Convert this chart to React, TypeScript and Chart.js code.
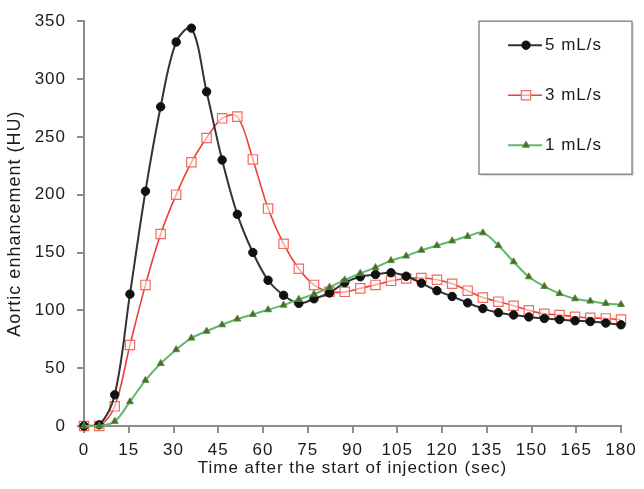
import React, { useEffect, useRef } from 'react';
import { Chart, registerables } from 'chart.js';
import { drawPoint } from 'chart.js/helpers';

Chart.register(...registerables);

// Sample times (sec) – 36 samples over 0–180 s
const times = [0, 5.1, 10.3, 15.4, 20.6, 25.7, 30.9, 36, 41.1, 46.3, 51.4, 56.6, 61.7, 66.9, 72, 77.1, 82.3, 87.4,
  92.6, 97.7, 102.9, 108, 113.1, 118.3, 123.4, 128.6, 133.7, 138.9, 144, 149.1, 154.3, 159.4, 164.6, 169.7, 174.9, 180];

// Aortic enhancement (HU)
const rate5 = [0, 1, 27, 114, 203, 276, 332, 344, 289, 230, 183, 150, 126, 113, 106, 110, 115, 124, 129, 131,
  132.5, 129.5, 123.5, 117, 112, 106.5, 101.5, 98, 96, 94.3, 93, 92, 91, 90.3, 89, 87.5];
const rate3 = [0, 0, 17, 70, 122, 166, 200, 228, 249, 266, 267.5, 230.5, 188, 157.5, 136, 122, 116, 116, 119, 122,
  125.5, 127.5, 128, 126.5, 123, 117, 111, 107.5, 104, 100, 97, 96, 94.5, 93.5, 93, 92];
const rate1 = [0, 0, 4, 21, 39.5, 54, 66, 76, 82, 87.5, 92.5, 96.5, 100.5, 104.5, 109.5, 114, 120, 126.3, 132, 137,
  143, 147, 152, 156, 160, 164, 167, 156, 142, 129, 120.7, 114.5, 110, 108, 106, 105];

const seriesLabels = ['5 mL/s', '3 mL/s', '1 mL/s'];
const xTitle = 'Time after the start of injection (sec)';
const yTitle = 'Aortic enhancement (HU)';
const xRange = [0, 180];
const xStep = 15;
const yRange = [0, 350];
const yStep = 50;

const FONT = '"Liberation Sans", Arial, Helvetica, sans-serif';
const TEXT = '#1a1a1a';
const AXIS = '#8c8c8c';

const spacingPlugin = {
  id: 'letterSpacingPlugin',
  beforeLayout(chart: any) { chart.ctx.letterSpacing = '1px'; },
  beforeDraw(chart: any) { chart.ctx.letterSpacing = '1px'; },
};

const boxLegendPlugin = {
  id: 'boxLegend',
  afterDraw(chart: any) {
    const ctx = chart.ctx;
    const area = chart.chartArea;
    const w = 153;
    const h = 153;
    const x0 = area.right + 11 - w;
    const y0 = area.top;
    ctx.save();
    ctx.fillStyle = 'rgba(0,0,0,0.12)';
    ctx.fillRect(x0 + 2, y0 + 2, w, h);
    ctx.fillStyle = '#ffffff';
    ctx.fillRect(x0, y0, w, h);
    ctx.strokeStyle = AXIS;
    ctx.lineWidth = 1.5;
    ctx.strokeRect(x0, y0, w, h);
    chart.data.datasets.forEach((ds: any, i: number) => {
      const y = y0 + 24 + i * 50;
      ctx.strokeStyle = ds.borderColor;
      ctx.lineWidth = ds.borderWidth;
      ctx.beginPath();
      ctx.moveTo(x0 + 29, y);
      ctx.lineTo(x0 + 63, y);
      ctx.stroke();
      ctx.fillStyle = ds.pointBackgroundColor;
      ctx.strokeStyle = ds.pointBorderColor;
      ctx.lineWidth = ds.pointBorderWidth;
      drawPoint(ctx, { pointStyle: ds.pointStyle, radius: ds.pointRadius, rotation: 0, borderWidth: ds.pointBorderWidth }, x0 + 47, y);
      ctx.fillStyle = TEXT;
      ctx.font = `17px ${FONT}`;
      ctx.textBaseline = 'middle';
      ctx.textAlign = 'left';
      ctx.fillText(ds.label, x0 + 66, y);
    });
    ctx.restore();
  },
};

function toPoints(values: number[]) {
  return values.map((v, i) => ({ x: times[i], y: v }));
}

export default function App() {
  const canvasRef = useRef<HTMLCanvasElement | null>(null);

  useEffect(() => {
    if (!canvasRef.current) return;
    const chart = new Chart(canvasRef.current, {
      type: 'line',
      data: {
        datasets: [
          {
            label: seriesLabels[0],
            data: toPoints(rate5),
            borderColor: '#333333',
            borderWidth: 2,
            pointStyle: 'circle',
            pointRadius: 4.2,
            pointBackgroundColor: '#111111',
            pointBorderColor: '#111111',
            pointBorderWidth: 1,
            order: 2,
            clip: false,
          },
          {
            label: seriesLabels[1],
            data: toPoints(rate3),
            borderColor: '#ee3f35',
            borderWidth: 1.6,
            pointStyle: 'rect',
            pointRadius: 6.6,
            pointBackgroundColor: 'rgba(255,255,255,0.55)',
            pointBorderColor: '#f26a5c',
            pointBorderWidth: 1.2,
            order: 3,
            clip: false,
          },
          {
            label: seriesLabels[2],
            data: toPoints(rate1),
            borderColor: '#5dbb6a',
            borderWidth: 2,
            pointStyle: 'triangle',
            pointRadius: 4,
            pointBackgroundColor: '#4d6a2b',
            pointBorderColor: '#5a8c3c',
            pointBorderWidth: 1,
            order: 1,
            clip: false,
          },
        ] as any,
      },
      options: {
        animation: false,
        responsive: true,
        maintainAspectRatio: false,
        layout: { padding: { left: 0, right: 23, top: 15, bottom: 0 } },
        elements: { line: { tension: 0.35 } },
        plugins: { legend: { display: false }, tooltip: { enabled: false } },
        scales: {
          x: {
            type: 'linear',
            min: xRange[0],
            max: xRange[1],
            ticks: { stepSize: xStep, color: TEXT, font: { family: FONT, size: 17 }, padding: 7, maxRotation: 0, autoSkip: false },
            grid: { drawOnChartArea: false, drawTicks: true, tickLength: 7, color: AXIS, lineWidth: 2 },
            border: { display: true, color: AXIS, width: 2 },
            title: { display: true, text: xTitle, color: TEXT, font: { family: FONT, size: 17 }, padding: { top: 0, bottom: 10 } },
            afterFit: (s: any) => { s.height = 63; },
          },
          y: {
            min: yRange[0],
            max: yRange[1],
            ticks: { stepSize: yStep, color: TEXT, font: { family: FONT, size: 17 }, padding: 11 },
            grid: { drawOnChartArea: false, drawTicks: true, tickLength: 7, color: AXIS, lineWidth: 2 },
            border: { display: true, color: AXIS, width: 2 },
            title: { display: true, text: yTitle, color: TEXT, font: { family: FONT, size: 18 }, padding: { top: 4, bottom: 0 } },
            afterFit: (s: any) => { s.width = 84; },
          },
        },
      } as any,
      plugins: [spacingPlugin, boxLegendPlugin],
    });
    return () => chart.destroy();
  }, []);

  return (
    <div style={{ position: 'absolute', left: 0, top: 0, width: 644, height: 489, background: '#fff' }}>
      <canvas ref={canvasRef} />
    </div>
  );
}
